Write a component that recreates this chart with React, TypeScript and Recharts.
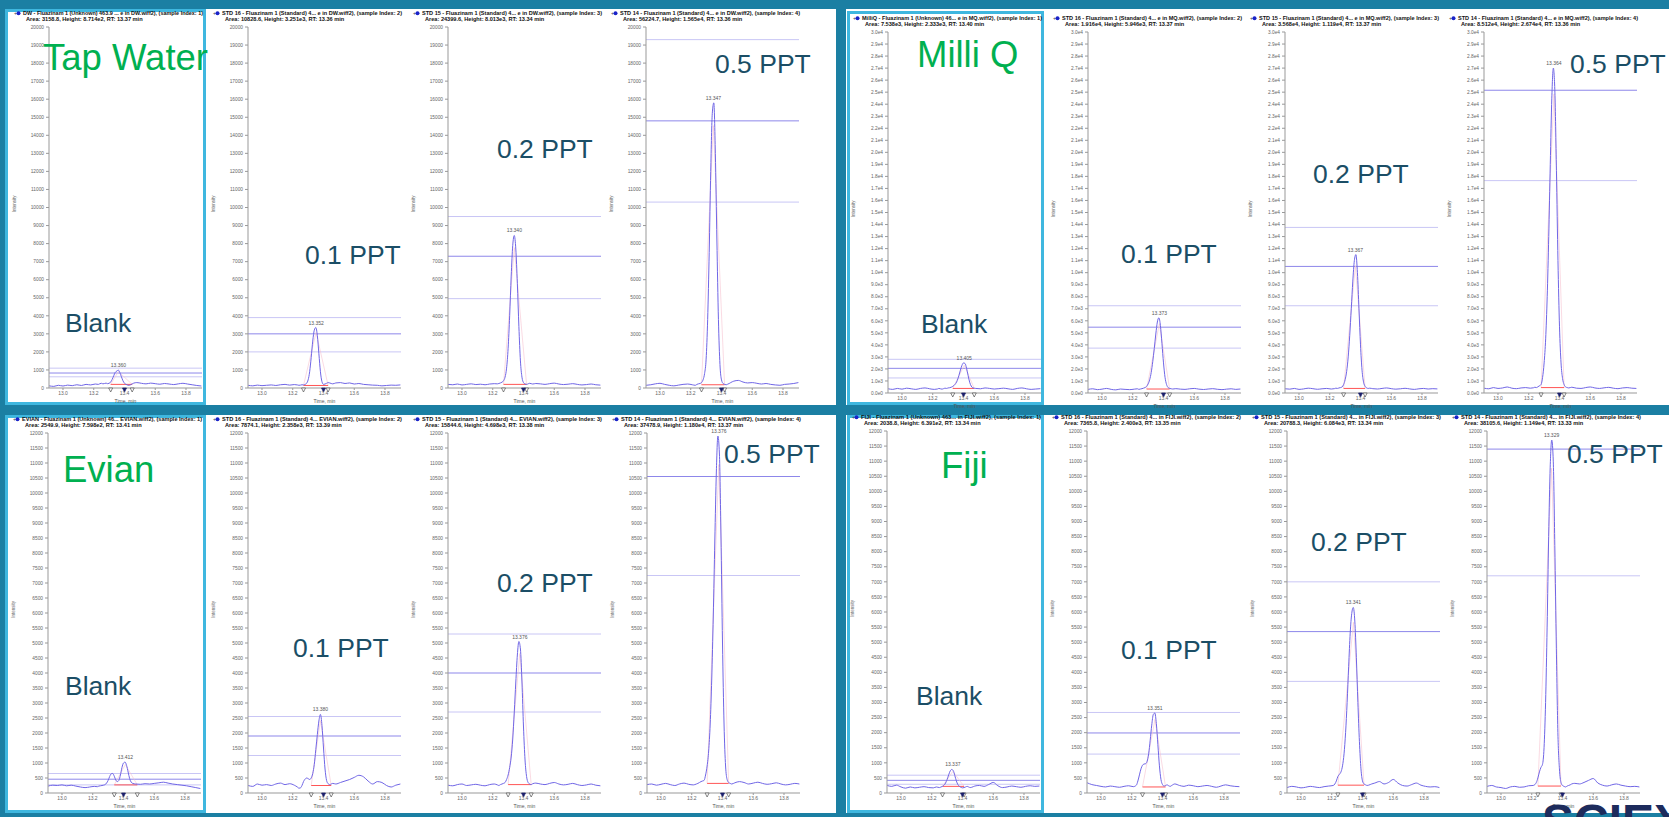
import React from 'react';
import { LineChart, Line, XAxis, YAxis, ReferenceLine, ReferenceDot } from 'recharts';

// retention time grid (min) shared by every trace, finer around the peak
const TIMES = [
  12.91, 12.94, 12.97, 13.0, 13.03, 13.06, 13.09, 13.12, 13.15, 13.18,
  13.21, 13.23, 13.24, 13.25, 13.26, 13.27, 13.28, 13.29, 13.3, 13.31,
  13.32, 13.33, 13.34, 13.35, 13.36, 13.37, 13.38, 13.39, 13.4, 13.41,
  13.42, 13.43, 13.44, 13.45, 13.46, 13.48, 13.51, 13.54, 13.57, 13.6,
  13.63, 13.66, 13.69, 13.72, 13.75, 13.78, 13.81, 13.84, 13.87, 13.9,
];

// Tap water (DW)
const TAP_BLANK = [
  120, 90, 150, 110, 160, 130, 180, 140, 200, 170,
  220, 200, 240, 260, 230, 250, 270, 240, 260, 330,
  480, 680, 870, 940, 990, 850, 620, 400, 260, 200,
  160, 150, 180, 230, 270, 300, 260, 230, 270, 240,
  210, 250, 220, 190, 230, 260, 220, 180, 140, 110,
];
const TAP_01 = [
  150, 120, 160, 130, 150, 170, 140, 180, 200, 160,
  190, 170, 150, 160, 180, 170, 200, 260, 450, 900,
  1700, 2600, 3200, 3350, 2900, 1900, 900, 350, 200, 220,
  260, 300, 280, 250, 230, 280, 300, 250, 280, 220,
  250, 200, 180, 160, 150, 120, 140, 160, 150, 170,
];
const TAP_02 = [
  200, 180, 220, 170, 200, 230, 190, 210, 180, 220,
  240, 230, 250, 280, 320, 400, 600, 1100, 2200, 4000,
  6200, 7900, 8450, 7700, 5800, 3400, 1500, 600, 300, 220,
  200, 230, 260, 240, 220, 250, 230, 200, 240, 270,
  220, 190, 210, 240, 200, 170, 190, 220, 180, 160,
];
const TAP_05 = [
  150, 180, 230, 260, 200, 150, 120, 160, 200, 220,
  180, 150, 200, 230, 250, 300, 450, 800, 1600, 3800,
  7500, 12000, 15200, 15800, 13000, 8200, 3800, 1300, 450, 250,
  200, 180, 210, 250, 300, 380, 420, 330, 280, 300,
  260, 220, 250, 200, 170, 150, 200, 220, 250, 300,
];

// Milli Q
const MQ_BLANK = [
  350, 300, 380, 320, 400, 350, 300, 380, 420, 350,
  300, 330, 380, 350, 320, 360, 400, 380, 420, 440,
  480, 550, 650, 800, 1050, 1450, 1900, 2300, 2500, 2450,
  2050, 1450, 900, 580, 430, 380, 350, 420, 380, 330,
  360, 400, 350, 300, 380, 420, 350, 300, 330, 360,
];
const MQ_01 = [
  300, 350, 280, 320, 380, 300, 260, 330, 300, 280,
  320, 350, 300, 330, 360, 400, 450, 550, 750, 1100,
  1700, 2600, 3700, 4900, 5900, 6250, 5600, 4100, 2500, 1300,
  700, 450, 380, 350, 330, 360, 320, 300, 350, 380,
  320, 290, 330, 360, 310, 280, 320, 350, 300, 330,
];
const MQ_02 = [
  350, 320, 380, 300, 340, 400, 360, 310, 350, 380,
  330, 360, 400, 380, 420, 450, 500, 700, 1100, 1800,
  3000, 4800, 7000, 9300, 11000, 11500, 10000, 7000, 4000, 1900,
  900, 550, 420, 380, 400, 360, 330, 380, 420, 360,
  320, 350, 390, 340, 300, 350, 380, 330, 360, 340,
];
const MQ_05 = [
  400, 350, 450, 380, 420, 500, 400, 360, 420, 450,
  400, 430, 480, 450, 520, 600, 700, 1300, 2500, 4500,
  8000, 13000, 19000, 24500, 27000, 25000, 18500, 11000, 5500, 2500,
  1200, 700, 500, 450, 420, 480, 400, 380, 450, 500,
  420, 380, 430, 470, 400, 360, 420, 450, 400, 380,
];

// Evian
const EV_BLANK = [
  230, 260, 250, 270, 240, 260, 230, 200, 180, 200,
  220, 210, 230, 240, 250, 260, 280, 330, 420, 550,
  640, 650, 560, 430, 380, 420, 600, 850, 1000, 1030,
  920, 700, 480, 360, 320, 300, 290, 310, 300, 320,
  340, 360, 330, 300, 280, 260, 240, 210, 180, 150,
];
const EV_01 = [
  250, 220, 300, 260, 280, 250, 300, 330, 280, 310,
  260, 200, 160, 170, 250, 380, 460, 500, 480, 450,
  500, 650, 950, 1450, 1950, 2400, 2620, 2250, 1500, 800,
  420, 310, 280, 300, 320, 300, 350, 400, 450, 520,
  590, 540, 400, 300, 380, 350, 250, 200, 260, 300,
];
const EV_02 = [
  260, 240, 280, 300, 250, 270, 290, 260, 240, 280,
  300, 270, 250, 280, 300, 320, 350, 450, 600, 850,
  1200, 1800, 2700, 3700, 4600, 5050, 4800, 3700, 2200, 1100,
  550, 350, 300, 280, 310, 330, 300, 280, 320, 350,
  300, 270, 290, 320, 280, 250, 270, 300, 260, 240,
];
const EV_05 = [
  280, 300, 260, 290, 320, 280, 250, 300, 330, 290,
  270, 300, 320, 350, 380, 400, 420, 600, 900, 1400,
  2300, 3800, 5900, 8400, 10700, 11900, 11300, 8600, 5000, 2300,
  900, 450, 350, 320, 300, 340, 380, 350, 300, 330,
  360, 320, 290, 310, 340, 300, 270, 290, 320, 300,
];

// Fiji
const FJ_BLANK = [
  250, 220, 260, 200, 160, 200, 170, 190, 210, 180,
  170, 200, 190, 180, 200, 220, 260, 330, 450, 600,
  730, 780, 740, 580, 400, 280, 220, 190, 170, 180,
  200, 220, 200, 180, 190, 230, 250, 220, 280, 350,
  240, 180, 200, 230, 210, 190, 220, 240, 220, 230,
];
const FJ_01 = [
  340, 280, 250, 220, 200, 230, 210, 190, 220, 240,
  210, 260, 400, 600, 800, 920, 960, 970, 1050, 1300,
  1750, 2250, 2600, 2650, 2300, 1600, 900, 450, 280, 230,
  250, 270, 240, 220, 250, 300, 250, 220, 260, 240,
  210, 230, 250, 220, 190, 230, 270, 240, 220, 210,
];
const FJ_02 = [
  180, 220, 200, 170, 190, 220, 200, 180, 210, 230,
  250, 400, 550, 620, 700, 900, 1300, 2000, 3000, 4200,
  5300, 5950, 6150, 5700, 4500, 3000, 1700, 800, 400, 300,
  270, 250, 260, 280, 300, 330, 380, 300, 350, 450,
  330, 250, 230, 280, 330, 260, 220, 200, 210, 180,
];
const FJ_05 = [
  220, 250, 200, 180, 150, 200, 220, 190, 200, 240,
  250, 350, 500, 700, 850, 950, 1500, 3000, 5500, 8500,
  10800, 11700, 11000, 8200, 4800, 2000, 800, 350, 250, 220,
  200, 230, 250, 270, 300, 320, 300, 350, 420, 480,
  330, 260, 230, 270, 300, 260, 230, 210, 220, 200,
];

// peak apex retention times
const TAP_RT = [13.36, 13.352, 13.34, 13.347];
const MQ_RT = [13.405, 13.373, 13.367, 13.364];
const EV_RT = [13.412, 13.38, 13.376, 13.376];
const FJ_RT = [13.337, 13.351, 13.341, 13.329];

// threshold lines: upper, middle, lower
const TAP_LEVELS = [[1100, 830, 620], [3900, 3000, 2000], [9500, 7300, 4950], [19300, 14800, 10300]];
const MQ_LEVELS = [[2800, 2050, 1250], [7250, 5470, 3730], [13760, 10520, 7250], [32700, 25160, 17650]];
const EV_LEVELS = [[650, 460, 270], [2550, 1900, 1250], [5300, 4000, 2700], [13850, 10550, 7250]];
const FJ_LEVELS = [[590, 420, 290], [2670, 1990, 1290], [7000, 5350, 3700], [15600, 11400, 7200]];

// integration baseline: start, end, level
const TAP_BASE = [[13.31, 13.45, 200], [13.27, 13.43, 140], [13.27, 13.42, 200], [13.27, 13.42, 180]];
const MQ_BASE = [[13.33, 13.47, 380], [13.29, 13.44, 330], [13.29, 13.43, 380], [13.28, 13.43, 450]];
const EV_BASE = [[13.34, 13.49, 270], [13.32, 13.45, 250], [13.3, 13.45, 280], [13.3, 13.44, 320]];
const FJ_BASE = [[13.27, 13.41, 220], [13.27, 13.42, 200], [13.24, 13.41, 260], [13.24, 13.39, 230]];

const TAP_HEAD = [
  'DW - Fluazinam 1 (Unknown) 463.9 ... e in DW.wiff2), (sample Index: 1)',
  'STD 16 - Fluazinam 1 (Standard) 4... e in DW.wiff2), (sample Index: 2)',
  'STD 15 - Fluazinam 1 (Standard) 4... e in DW.wiff2), (sample Index: 3)',
  'STD 14 - Fluazinam 1 (Standard) 4... e in DW.wiff2), (sample Index: 4)',
];
const TAP_AREA = [
  'Area: 3158.8, Height: 8.714e2, RT: 13.37 min',
  'Area: 10828.6, Height: 3.251e3, RT: 13.36 min',
  'Area: 24399.6, Height: 8.013e3, RT: 13.34 min',
  'Area: 56224.7, Height: 1.565e4, RT: 13.36 min',
];
const MQ_HEAD = [
  'MilliQ - Fluazinam 1 (Unknown) 46... e in MQ.wiff2), (sample Index: 1)',
  'STD 16 - Fluazinam 1 (Standard) 4... e in MQ.wiff2), (sample Index: 2)',
  'STD 15 - Fluazinam 1 (Standard) 4... e in MQ.wiff2), (sample Index: 3)',
  'STD 14 - Fluazinam 1 (Standard) 4... e in MQ.wiff2), (sample Index: 4)',
];
const MQ_AREA = [
  'Area: 7.538e3, Height: 2.333e3, RT: 13.40 min',
  'Area: 1.916e4, Height: 5.946e3, RT: 13.37 min',
  'Area: 3.568e4, Height: 1.119e4, RT: 13.37 min',
  'Area: 8.512e4, Height: 2.674e4, RT: 13.36 min',
];
const EV_HEAD = [
  'EVIAN - Fluazinam 1 (Unknown) 46... EVIAN.wiff2), (sample Index: 1)',
  'STD 16 - Fluazinam 1 (Standard) 4... EVIAN.wiff2), (sample Index: 2)',
  'STD 15 - Fluazinam 1 (Standard) 4... EVIAN.wiff2), (sample Index: 3)',
  'STD 14 - Fluazinam 1 (Standard) 4... EVIAN.wiff2), (sample Index: 4)',
];
const EV_AREA = [
  'Area: 2549.9, Height: 7.598e2, RT: 13.41 min',
  'Area: 7874.1, Height: 2.358e3, RT: 13.39 min',
  'Area: 15844.6, Height: 4.698e3, RT: 13.38 min',
  'Area: 37478.9, Height: 1.180e4, RT: 13.37 min',
];
const FJ_HEAD = [
  'FIJI - Fluazinam 1 (Unknown) 463... in FIJI.wiff2), (sample Index: 1)',
  'STD 16 - Fluazinam 1 (Standard) 4... in FIJI.wiff2), (sample Index: 2)',
  'STD 15 - Fluazinam 1 (Standard) 4... in FIJI.wiff2), (sample Index: 3)',
  'STD 14 - Fluazinam 1 (Standard) 4... in FIJI.wiff2), (sample Index: 4)',
];
const FJ_AREA = [
  'Area: 2038.8, Height: 6.391e2, RT: 13.34 min',
  'Area: 7365.8, Height: 2.400e3, RT: 13.35 min',
  'Area: 20788.3, Height: 6.084e3, RT: 13.34 min',
  'Area: 38105.6, Height: 1.149e4, RT: 13.33 min',
];

const SAMPLE_NAMES = ['Tap Water', 'Milli Q', 'Evian', 'Fiji'];
const CONC_LABELS = ['Blank', '0.1 PPT', '0.2 PPT', '0.5 PPT'];

const X_TICKS = [13.0, 13.2, 13.4, 13.6, 13.8];
const TICKS_20K = Array.from({ length: 21 }, (_, i) => i * 1000);
const TICKS_30K = Array.from({ length: 31 }, (_, i) => i * 1000);
const TICKS_12K = Array.from({ length: 25 }, (_, i) => i * 500);
const EXPECTED_RT = 13.4;

const TEAL = '#1b7fa3';
const CYAN = '#3fb7df';
const TRACE = '#7066e6';
const W = 1669;
const H = 817;
const AXIS_W = 40;
const PLOT_W = 153;
const PAD_T = 8;
const PAD_R = 6;
const X_H = 20;
const X_DOMAIN = [12.909, 13.904];

const fmtSci = (v: number) => {
  if (v === 0) return '0.0e0';
  const e = Math.floor(Math.log10(v) + 1e-9);
  return `${(v / Math.pow(10, e)).toFixed(1)}e${e}`;
};

const QUADS = [
  { axes: [49, 248, 448, 646], yTop: 27, plotH: 361, yMax: 20000, ticks: TICKS_20K, fmt: (v: number) => String(v),
    series: [TAP_BLANK, TAP_01, TAP_02, TAP_05], rts: TAP_RT, levels: TAP_LEVELS, bases: TAP_BASE, heads: TAP_HEAD, areas: TAP_AREA,
    name: [43, 70], conc: [[65, 332], [305, 264], [497, 158], [715, 73]] },
  { axes: [888, 1088, 1285, 1484], yTop: 32, plotH: 361, yMax: 30000, ticks: TICKS_30K, fmt: fmtSci,
    series: [MQ_BLANK, MQ_01, MQ_02, MQ_05], rts: MQ_RT, levels: MQ_LEVELS, bases: MQ_BASE, heads: MQ_HEAD, areas: MQ_AREA,
    name: [917, 67], conc: [[921, 333], [1121, 263], [1313, 183], [1570, 73]] },
  { axes: [48, 248, 448, 647], yTop: 433, plotH: 360, yMax: 12000, ticks: TICKS_12K, fmt: (v: number) => String(v),
    series: [EV_BLANK, EV_01, EV_02, EV_05], rts: EV_RT, levels: EV_LEVELS, bases: EV_BASE, heads: EV_HEAD, areas: EV_AREA,
    name: [63, 482], conc: [[65, 695], [293, 657], [497, 592], [724, 463]] },
  { axes: [887, 1087, 1287, 1487], yTop: 431, plotH: 362, yMax: 12000, ticks: TICKS_12K, fmt: (v: number) => String(v),
    series: [FJ_BLANK, FJ_01, FJ_02, FJ_05], rts: FJ_RT, levels: FJ_LEVELS, bases: FJ_BASE, heads: FJ_HEAD, areas: FJ_AREA,
    name: [941, 478], conc: [[916, 705], [1121, 659], [1311, 551], [1567, 463]] },
];

const WHITE_BOXES = [
  { x: 5, y: 9, w: 831, h: 396 },
  { x: 846, y: 9, w: 823, h: 396 },
  { x: 5, y: 415, w: 831, h: 398 },
  { x: 846, y: 415, w: 823, h: 398 },
];
const HIGHLIGHTS = [
  { x: 5, y: 9, w: 201, h: 396 },
  { x: 847, y: 11, w: 197, h: 394 },
  { x: 5, y: 415, w: 201, h: 398 },
  { x: 847, y: 415, w: 197, h: 398 },
];

const Marker = (filled: boolean) => (props: any) => {
  const { cx, cy } = props;
  if (cx == null || cy == null) return <g />;
  return (
    <polygon
      points={`${cx - 2},${cy} ${cx + 2},${cy} ${cx},${cy + 4}`}
      fill={filled ? '#1b1f6b' : '#fff'}
      stroke={filled ? '#1b1f6b' : '#555'}
      strokeWidth={0.7}
    />
  );
};

interface ChromProps {
  axisX: number;
  yTop: number;
  plotH: number;
  yMax: number;
  ticks: number[];
  fmt: (v: number) => string;
  values: number[];
  rt: number;
  levels: number[];
  base: number[];
}

const Chromatogram: React.FC<ChromProps> = ({ axisX, yTop, plotH, yMax, ticks, fmt, values, rt, levels, base }) => {
  const data = TIMES.map((t, i) => ({ t, v: values[i] }));
  const apex = Math.max(...values);
  const [t1, t2, lvl] = base;
  return (
    <div style={{ position: 'absolute', left: axisX - AXIS_W, top: yTop - PAD_T }}>
      <LineChart
        width={AXIS_W + PLOT_W + PAD_R}
        height={PAD_T + plotH + X_H}
        data={data}
        margin={{ top: PAD_T, right: PAD_R, bottom: 0, left: 0 }}
      >
        <XAxis
          dataKey="t"
          type="number"
          domain={X_DOMAIN}
          ticks={X_TICKS}
          allowDataOverflow
          height={X_H}
          tickFormatter={(v: number) => v.toFixed(1)}
          tick={{ fontSize: 5, fill: '#666' }}
          tickSize={2}
          tickMargin={1}
          axisLine={{ stroke: '#999' }}
          tickLine={{ stroke: '#999' }}
          label={{ value: 'Time, min', position: 'insideBottom', offset: 5, fontSize: 5, fill: '#555' }}
        />
        <YAxis
          type="number"
          domain={[0, yMax]}
          ticks={ticks}
          interval={0}
          allowDataOverflow
          width={AXIS_W}
          tickFormatter={fmt}
          tick={{ fontSize: 4.8, fill: '#666' }}
          tickSize={3}
          tickMargin={2}
          axisLine={{ stroke: '#999' }}
          tickLine={{ stroke: '#999' }}
        />
        <ReferenceLine y={levels[0]} stroke="#c9c6f5" strokeWidth={1} />
        <ReferenceLine y={levels[1]} stroke="#8d87ea" strokeWidth={1} />
        <ReferenceLine y={levels[2]} stroke="#c9c6f5" strokeWidth={1} />
        <ReferenceLine segment={[{ x: t1, y: lvl }, { x: rt, y: apex * 0.92 }]} stroke="#f7c3d0" strokeWidth={0.6} />
        <ReferenceLine segment={[{ x: rt, y: apex * 0.92 }, { x: t2, y: lvl }]} stroke="#f7c3d0" strokeWidth={0.6} />
        <ReferenceLine segment={[{ x: t1, y: lvl }, { x: t2, y: lvl }]} stroke="#ff5555" strokeWidth={1} />
        <Line
          type="monotone"
          dataKey="v"
          stroke={TRACE}
          strokeWidth={1}
          dot={false}
          isAnimationActive={false}
        />
        <ReferenceDot
          x={rt}
          y={apex}
          r={0}
          ifOverflow="visible"
          label={{ value: rt.toFixed(3), position: 'top', offset: 3, fontSize: 5, fill: '#555' }}
        />
        <ReferenceDot x={t1} y={0} ifOverflow="visible" shape={Marker(false)} />
        <ReferenceDot x={t2} y={0} ifOverflow="visible" shape={Marker(false)} />
        <ReferenceDot x={EXPECTED_RT} y={0} ifOverflow="visible" shape={Marker(true)} />
      </LineChart>
    </div>
  );
};

const App: React.FC = () => {
  const font = '"Liberation Sans", Arial, sans-serif';
  return (
    <div style={{ position: 'fixed', left: 0, top: 0, width: W, height: H, background: TEAL, overflow: 'hidden', fontFamily: font }}>
      {WHITE_BOXES.map((b, i) => (
        <div key={`w${i}`} style={{ position: 'absolute', left: b.x, top: b.y, width: b.w, height: b.h, background: '#fff' }} />
      ))}
      {HIGHLIGHTS.map((b, i) => (
        <div
          key={`h${i}`}
          style={{ position: 'absolute', left: b.x, top: b.y, width: b.w, height: b.h, border: `3px solid ${CYAN}`, boxSizing: 'border-box' }}
        />
      ))}
      {QUADS.map((q, qi) =>
        q.axes.map((ax, pi) => (
          <Chromatogram
            key={`c${qi}-${pi}`}
            axisX={ax}
            yTop={q.yTop}
            plotH={q.plotH}
            yMax={q.yMax}
            ticks={q.ticks}
            fmt={q.fmt}
            values={q.series[pi]}
            rt={q.rts[pi]}
            levels={q.levels[pi]}
            base={q.bases[pi]}
          />
        ))
      )}
      <svg width={W} height={H} style={{ position: 'absolute', left: 0, top: 0, pointerEvents: 'none' }} fontFamily={font}>
        {QUADS.map((q, qi) =>
          q.axes.map((ax, pi) => (
            <g key={`t${qi}-${pi}`}>
              <text x={ax - 35} y={q.yTop - 12} fontSize={5} fill="#444">+</text>
              <circle cx={ax - 30.5} cy={q.yTop - 13.8} r={2} fill="#1a22c8" />
              <text x={ax - 26} y={q.yTop - 12} fontSize={5} fontWeight="bold" fill="#111" textLength={180} lengthAdjust="spacingAndGlyphs">
                {q.heads[pi]}
              </text>
              <text x={ax - 23} y={q.yTop - 6} fontSize={5} fontWeight="bold" fill="#111" textLength={q.areas[pi].length * 2.65} lengthAdjust="spacingAndGlyphs">
                {q.areas[pi]}
              </text>
              <text transform={`translate(${ax - 33},${q.yTop + q.plotH * 0.49}) rotate(-90)`} textAnchor="middle" fontSize={4.5} fill="#666">
                Intensity
              </text>
            </g>
          ))
        )}
        {QUADS.map((q, qi) => (
          <text key={`n${qi}`} x={q.name[0]} y={q.name[1]} fontSize={36.5} fill="#00b050">
            {SAMPLE_NAMES[qi]}
          </text>
        ))}
        {QUADS.map((q, qi) =>
          q.conc.map((p, pi) => (
            <text key={`l${qi}-${pi}`} x={p[0]} y={p[1]} fontSize={26.5} fill="#1b4e66">
              {CONC_LABELS[pi]}
            </text>
          ))
        )}
        <text x={1542} y={838} fontSize={48} fontWeight="bold" fill="#1d2b5c">SCIEX</text>
      </svg>
    </div>
  );
};

export default App;
